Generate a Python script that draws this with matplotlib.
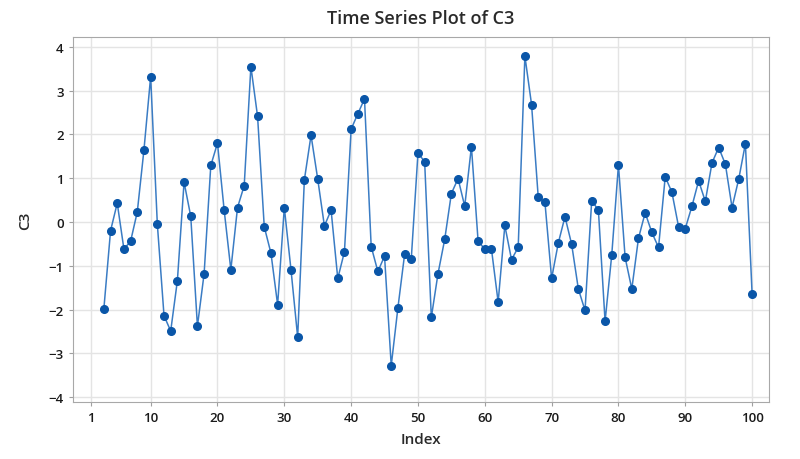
import matplotlib
matplotlib.use("Agg")
import matplotlib.pyplot as plt

# C3 values, index 3..100 (first two rows empty)
index = list(range(3, 101))
c3 = [
    -1.98, -0.20, 0.43, -0.62, -0.44, 0.23, 1.65, 3.32, -0.05, -2.14,
    -2.49, -1.34, 0.91, 0.13, -2.38, -1.18, 1.29, 1.80, 0.27, -1.09,
    0.33, 0.83, 3.55, 2.41, -0.11, -0.71, -1.89, 0.33, -1.09, -2.63,
    0.96, 1.98, 0.98, -0.09, 0.27, -1.29, -0.68, 2.12, 2.47, 2.81,
    -0.56, -1.13, -0.78, -3.28, -1.96, -0.74, -0.84, 1.57, 1.38, -2.18,
    -1.18, -0.40, 0.65, 0.99, 0.36, 1.72, -0.44, -0.62, -0.62, -1.83,
    -0.08, -0.86, -0.58, 3.79, 2.68, 0.56, 0.45, -1.29, -0.48, 0.12,
    -0.51, -1.53, -2.02, 0.49, 0.27, -2.27, -0.75, 1.30, -0.81, -1.53,
    -0.37, 0.21, -0.24, -0.58, 1.03, 0.68, -0.11, -0.15, 0.36, 0.94,
    0.47, 1.35, 1.70, 1.32, 0.33, 0.98, 1.79, -1.64,
]
xticks = [1, 10, 20, 30, 40, 50, 60, 70, 80, 90, 100]
yticks = [-4, -3, -2, -1, 0, 1, 2, 3, 4]

plt.rcParams['font.family'] = ['Open Sans', 'DejaVu Sans']

fig = plt.figure(figsize=(8, 4.6), dpi=100)
ax = fig.add_axes([0.091, 0.124, 0.870, 0.793])

ax.plot(index, c3, color='#3a7cc4', linewidth=1.1, marker='o', markersize=5.5,
        markerfacecolor='#0a56a8', markeredgecolor='#0a56a8', zorder=3)

ax.set_xlim(-1.65, 102.5)
ax.set_ylim(-4.11, 4.22)
ax.set_xticks(xticks)
ax.set_yticks(yticks)
ax.grid(True, color='#e4e4e4', linewidth=1)
ax.set_axisbelow(True)

for s in ax.spines.values():
    s.set_color('#a8a8a8')
ax.tick_params(colors='#a0a0a0', labelcolor='#1a1a1a', labelsize=9.5, length=3)
for lab in ax.get_xticklabels() + ax.get_yticklabels():
    lab.set_fontweight('semibold')

ax.set_title('Time Series Plot of C3', fontsize=13, fontweight='semibold',
             color='#2a2a2a', pad=10)
ax.set_xlabel('Index', fontsize=11, fontweight='semibold', color='#2a2a2a', labelpad=6)
ax.set_ylabel('C3', fontsize=11, fontweight='semibold', color='#2a2a2a', labelpad=12)

fig.savefig('out.png', dpi=100)
